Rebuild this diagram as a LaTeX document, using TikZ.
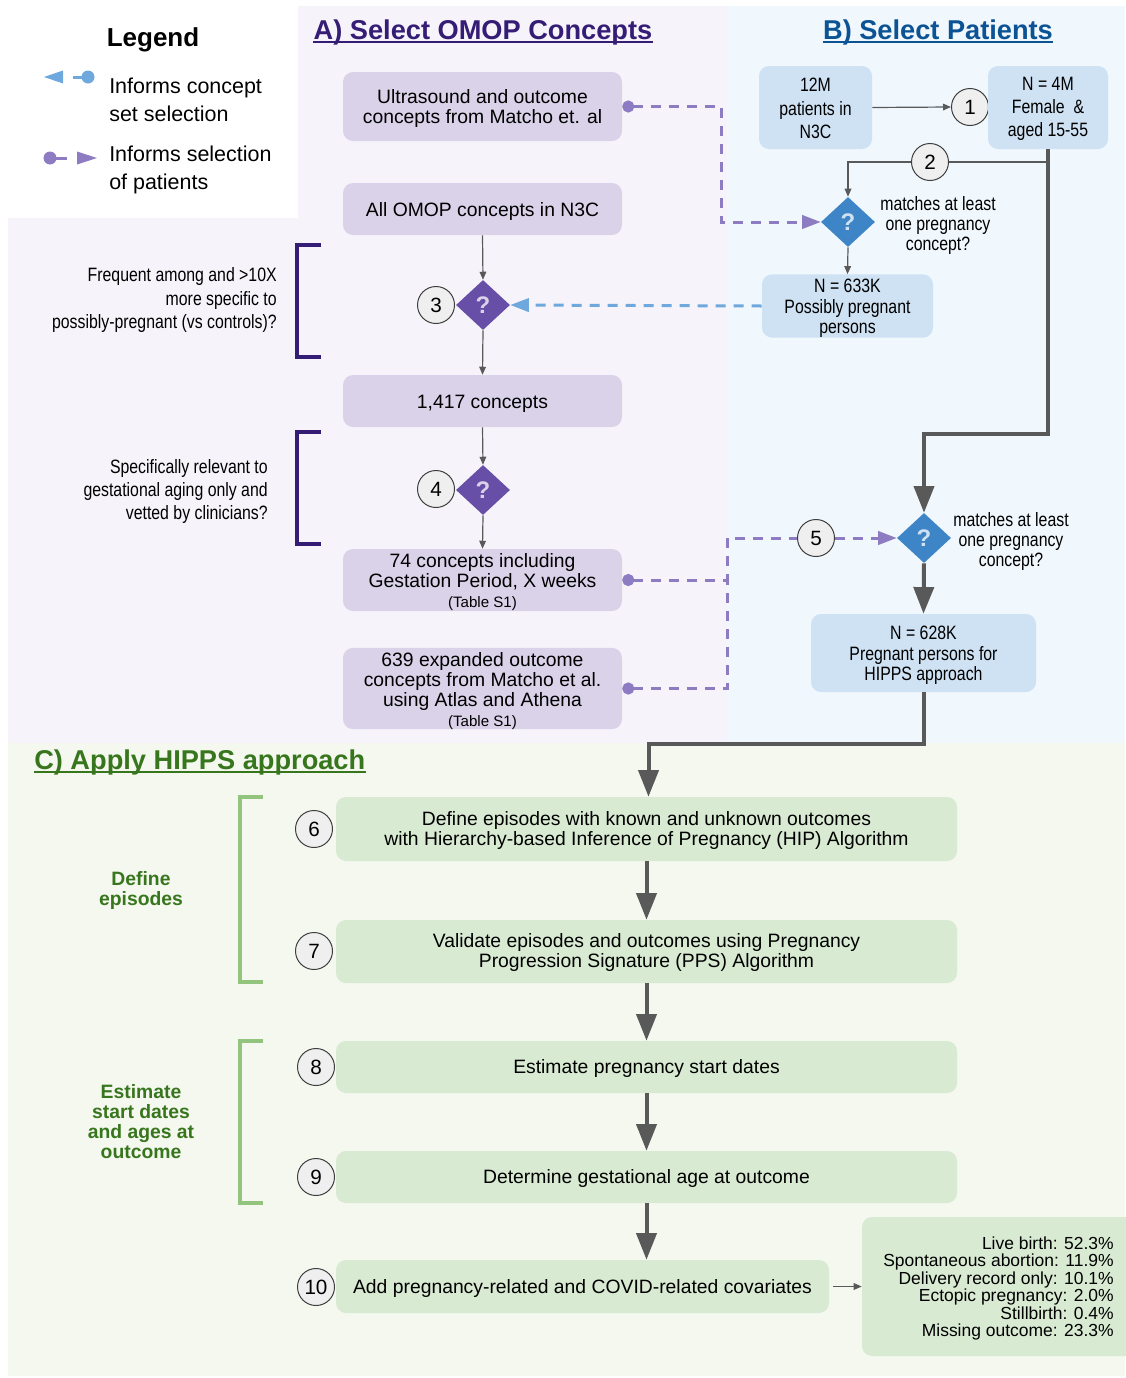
\documentclass[tikz,border=0pt]{standalone}
\usepackage{fontspec}
\setmainfont{Liberation Sans}
\newfontfamily\narrowfont[FakeStretch=0.82]{Liberation Sans}
\usetikzlibrary{arrows.meta,shapes.geometric}
\definecolor{bgA}{HTML}{F6F4FA}
\definecolor{bgB}{HTML}{F0F7FD}
\definecolor{bgC}{HTML}{F4F8EF}
\definecolor{boxP}{HTML}{D9D2E9}
\definecolor{boxB}{HTML}{CFE2F3}
\definecolor{boxG}{HTML}{D9EAD3}
\definecolor{diaP}{HTML}{674EA7}
\definecolor{diaB}{HTML}{3D85C6}
\definecolor{dashP}{HTML}{8E7CC3}
\definecolor{dashB}{HTML}{6FA8DC}
\definecolor{titA}{HTML}{351C75}
\definecolor{titB}{HTML}{0B5394}
\definecolor{titC}{HTML}{38761D}
\definecolor{brkC}{HTML}{93C47D}
\definecolor{lineG}{HTML}{595959}
\definecolor{circF}{HTML}{EFEFEF}
\newcommand{\fsz}[2]{\fontsize{#1}{#2}\selectfont}
\newcommand{\st}{\rule{0pt}{13.6pt}}
\newcommand{\sst}{\rule{0pt}{12pt}}
\newcommand{\ost}{\rule{0pt}{12.6pt}}
\begin{document}
\begin{tikzpicture}[x=0.75pt,y=-0.75pt,
  box/.style={rounded corners=7.5pt, inner sep=0pt, align=center, text=black, font=\fsz{14.5}{15}},
  pbox/.style={box, fill=boxP, minimum width=209.25pt},
  bbox/.style={box, fill=boxB, font=\narrowfont\fsz{14.5}{15.4}},
  gbox/.style={box, fill=boxG, minimum width=465.75pt},
  qdia/.style={diamond, inner sep=0pt, minimum width=40.5pt, minimum height=37.5pt, font=\bfseries\fsz{18}{18}},
  num/.style={circle, draw=lineG!70!black, line width=0.75pt, fill=circF, minimum size=27.75pt, inner sep=0pt, font=\fsz{15.5}{15.5}},
  thinline/.style={draw=lineG, line width=0.9pt},
  thinarr/.style={thinline, -{Triangle[length=6pt,width=5pt]}},
  thickarr/.style={draw=lineG, line width=3pt, -{Triangle[length=20pt,width=15pt]}},
  pdash/.style={draw=dashP, line width=2.25pt, dash pattern=on 7.5pt off 6pt},
  bdash/.style={draw=dashB, line width=2.25pt, dash pattern=on 7.5pt off 6pt},
  dot/.style={{Circle[length=9pt]}-},
  tip/.style={-{Triangle[length=14pt,width=10pt]}},
  dottip/.style={{Circle[length=9pt]}-{Triangle[length=14pt,width=10pt]}},
  narrowtxt/.style={font=\narrowfont\fsz{14.5}{17.6}, align=right, inner sep=0pt},
  titlestyle/.style={font=\bfseries\fsz{20.4}{22}, inner sep=0pt, anchor=base},
  grnlabel/.style={font=\bfseries\fsz{14.5}{15}, text=titC, align=center, inner sep=0pt}
]
\useasboundingbox (0,0) rectangle (1125,1378);
% backgrounds
\fill[bgA] (298,6) rectangle (727,743);
\fill[bgA] (8,218) rectangle (298,743);
\fill[bgB] (727,6) rectangle (1125,743);
\fill[bgC] (8,743) rectangle (1125,1376);

% legend
\node[font=\bfseries\fsz{19.5}{20}, inner sep=0pt] (leg) at (153,40) {Legend};
\node[anchor=west, align=left, font=\fsz{16.1}{21}, inner sep=0pt] (lg1) at (109,99.5) {Informs concept\\set selection};
\node[anchor=west, align=left, font=\fsz{16.1}{21}, inner sep=0pt] (lg2) at (109,169.5) {Informs selection\\of patients};
\fill[dashB] (44,77) -- (63,70.5) -- (63,83.5) -- cycle;
\draw[dashB, line width=2.25pt] (73,77) -- (84,77);
\fill[dashB] (88,77) circle[radius=6.5];
\fill[dashP] (50,158) circle[radius=6.5];
\draw[dashP, line width=2.25pt] (56,158) -- (67,158);
\fill[dashP] (97,158) -- (77,151.5) -- (77,164.5) -- cycle;

% titles
\node[titlestyle, text=titA] (tA) at (483,39) {A) Select OMOP Concepts};
\draw[titA, line width=1.6pt] ([yshift=-2.2pt]tA.base west) -- ([yshift=-2.2pt]tA.base east);
\node[titlestyle, text=titB] (tB) at (938,39) {B) Select Patients};
\draw[titB, line width=1.6pt] ([yshift=-2.2pt]tB.base west) -- ([yshift=-2.2pt]tB.base east);
\node[titlestyle, text=titC, anchor=base west] (tC) at (34,769) {C) Apply HIPPS approach};
\draw[titC, line width=1.6pt] ([yshift=-2.2pt]tC.base west) -- ([yshift=-2.2pt]tC.base east);

% A column
\node[pbox, minimum height=51.75pt] (u) at (482.5,106.5) {\st Ultrasound and outcome\\concepts from Matcho et. al};
\node[pbox, minimum height=39pt] (all) at (482.5,209) {\st All OMOP concepts in N3C};
\node[qdia, fill=diaP, text=boxP] (d3) at (483,305) {?};
\node[num] (c3) at (436,305) {3};
\node[pbox, minimum height=39pt] (k1417) at (482.5,401) {\st 1,417 concepts};
\node[qdia, fill=diaP, text=boxP] (d4) at (483,490) {?};
\node[num] (c4) at (436,489) {4};
\node[pbox, minimum height=46.5pt] (b74) at (482.5,580) {\st 74 concepts including\\Gestation Period, X weeks\\{\fsz{11.3}{12}(Table S1)}};
\node[pbox, minimum height=57.75pt] (b639) at (482.5,688.5) {\st 639 expanded outcome\\concepts from Matcho et al.\\using Atlas and Athena\\{\fsz{11.3}{12}(Table S1)}};

\node[narrowtxt, anchor=east] (q3) at (277,300) {Frequent among and >10X\\more specific to\\possibly-pregnant (vs controls)?};
\node[narrowtxt, anchor=east] (q4) at (268,491.5) {Specifically relevant to\\gestational aging only and\\vetted by clinicians?};
\draw[titA, line width=2.6pt] (321,245) -- (297,245) -- (297,357) -- (321,357);
\draw[titA, line width=2.6pt] (321,432) -- (297,432) -- (297,544) -- (321,544);

\draw[thinarr] (all.south) -- (d3.north);
\draw[thinarr] (d3.south) -- (k1417.north);
\draw[thinarr] (k1417.south) -- (d4.north);
\draw[thinarr] (d4.south) -- (b74.north);

% B column
\node[bbox, font=\narrowfont\fsz{14.5}{17.6}, minimum width=84.75pt, minimum height=62.25pt] (b12) at (815.5,107.5) {\sst 12M\\patients in\\N3C};
\node[num] (c1) at (970,107) {1};
\node[bbox, font=\narrowfont\fsz{14.5}{17.6}, minimum width=90pt, minimum height=62.25pt] (b4m) at (1048,107.5) {\sst N = 4M\\Female\ \ \&\\aged 15-55};
\coordinate (j2) at (1048,162);
\node[num] (c2) at (930,162) {2};
\node[qdia, fill=diaB, text=boxB] (d2) at (848,222) {?};
\node[narrowtxt, align=center, font=\narrowfont\fsz{14.5}{15}] (m2) at (938,225) {matches at least\\one pregnancy\\concept?};
\node[bbox, minimum width=128.25pt, minimum height=46.5pt] (b633) at (847.5,306) {\st N = 633K\\Possibly pregnant\\persons};
\node[qdia, fill=diaB, text=boxB] (d5) at (924,538) {?};
\node[narrowtxt, align=center, font=\narrowfont\fsz{14.5}{15}] (m5) at (1011,541) {matches at least\\one pregnancy\\concept?};
\node[num] (c5) at (816,538) {5};
\node[bbox, minimum width=168.75pt, minimum height=58.5pt] (b628) at (923.5,653) {\st N = 628K\\Pregnant persons for\\HIPPS approach};

\draw[thinarr] (b12.east) -- (c1.west);
\draw[thickarr] (b4m.south) -- ++(0,285) -| (d5.north);
\draw[thinline] (j2) -- (c2.east);
\draw[thinarr] (c2.west) -| (d2.north);
\draw[thinarr] (d2.south) -- (b633.north);
\draw[bdash, tip] (b633.west) -- (d3.east);
\draw[pdash, dottip] (u.east) -- (721,106.5) |- (d2.west);
\draw[pdash, dot] (b74.east) -- (727,580) |- (c5.west);
\draw[pdash, dot] (b639.east) -- (727,688.5) -- (727,580);
\draw[pdash, tip] (c5.east) -- (d5.west);
\draw[thickarr] (d5.south) -- (b628.north);

% C column
\node[gbox, minimum height=48pt] (b6) at (646.5,829) {\sst Define episodes with known and unknown outcomes\\with Hierarchy-based Inference of Pregnancy (HIP) Algorithm};
\node[num] (c6) at (314,829) {6};
\node[gbox, minimum height=47.25pt] (b7) at (646.5,951.5) {\sst Validate episodes and outcomes using Pregnancy\\Progression Signature (PPS) Algorithm};
\node[num] (c7) at (314,951) {7};
\node[gbox, minimum height=39pt] (b8) at (646.5,1067) {\sst Estimate pregnancy start dates};
\node[num] (c8) at (316,1067) {8};
\node[gbox, minimum height=39pt] (b9) at (646.5,1177) {\sst Determine gestational age at outcome};
\node[num] (c9) at (316,1177) {9};
\node[gbox, minimum width=369.75pt, minimum height=39.75pt] (b10) at (582.5,1286.5) {\st Add pregnancy-related and COVID-related covariates};
\node[num] (c10) at (316,1287) {10};
\node[gbox, minimum width=204.75pt, minimum height=104.25pt, align=right, font=\fsz{13.1}{13.1}] (out) at (998.5,1286.5) {\ost Live birth: 52.3\%\\Spontaneous abortion: 11.9\%\\Delivery record only: 10.1\%\\Ectopic pregnancy: 2.0\%\\Stillbirth: 0.4\%\\Missing outcome: 23.3\%};

\node[grnlabel] (l1) at (141,890) {Define\\episodes};
\node[grnlabel] (l2) at (141,1121.5) {Estimate\\start dates\\and ages at\\outcome};
\draw[brkC, line width=3pt] (263,797) -- (240,797) -- (240,982) -- (263,982);
\draw[brkC, line width=3pt] (263,1041) -- (240,1041) -- (240,1203) -- (263,1203);

\draw[thickarr] (b628.south) -- ++(0,52) -| ([xshift=1.5pt]b6.north);
\draw[thickarr] (b6.south) -- (b7.north);
\draw[thickarr] (b7.south) -- (b8.north);
\draw[thickarr] (b8.south) -- (b9.north);
\draw[thickarr] (b9.south) -- (b9.south |- b10.north);
\draw[thinarr, shorten <=3pt] (b10.east) -- (out.west);
\end{tikzpicture}
\end{document}
